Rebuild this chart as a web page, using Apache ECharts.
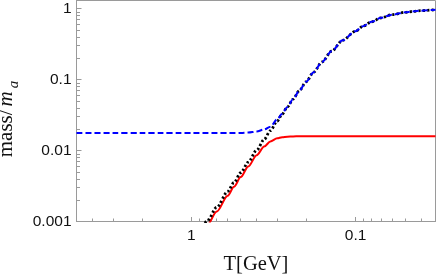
<!DOCTYPE html>
<html><head><meta charset="utf-8">
<script src="https://cdn.jsdelivr.net/npm/echarts@6/dist/echarts.min.js"></script>
<style>html,body{margin:0;padding:0;background:#fff}#c{width:436px;height:274px}</style>
</head><body><div id="c"></div>
<script>
// Temperature samples (GeV)
const T = [5, 3, 2, 1.5, 1.2, 1.0, 0.9, 0.8, 0.7, 0.6, 0.55, 0.5, 0.45, 0.4, 0.36, 0.33, 0.3, 0.28, 0.26, 0.24, 0.22, 0.2, 0.18, 0.16, 0.14, 0.12, 0.1, 0.09, 0.08, 0.07, 0.06, 0.05, 0.045, 0.04, 0.0326];
// blue dashed
const blueVals = [0.0176, 0.0176, 0.0176, 0.0176, 0.0176, 0.0176, 0.0176, 0.0176, 0.0176, 0.0176, 0.0176, 0.0177, 0.0179, 0.0185, 0.0198, 0.0217, 0.0275, 0.0330, 0.0411, 0.0530, 0.0696, 0.0931, 0.127, 0.177, 0.2505, 0.3566, 0.48, 0.565, 0.65, 0.74, 0.82, 0.885, 0.91, 0.935, 0.965];
// black dotted
const blackVals = ['-', '-', '-', '-', 0.000264, 0.000484, 0.000688, 0.001019, 0.001588, 0.002652, 0.00354, 0.00486, 0.00687, 0.01012, 0.01433, 0.01905, 0.02597, 0.03244, 0.04113, 0.05303, 0.06956, 0.0931, 0.1271, 0.1769, 0.2505, 0.3566, 0.48, 0.565, 0.65, 0.74, 0.82, 0.885, 0.91, 0.935, 0.965];
// red solid
const redVals = ['-', '-', '-', '-', 0.000230, 0.000421, 0.000599, 0.000887, 0.001382, 0.002307, 0.00308, 0.00422, 0.00596, 0.00859, 0.01138, 0.01343, 0.01486, 0.0154, 0.01568, 0.01581, 0.01587, 0.0159, 0.0159, 0.0159, 0.0159, 0.0159, 0.0159, 0.0159, 0.0159, 0.0159, 0.0159, 0.0159, 0.0159, 0.0159, 0.0159];

const xTickValues = [1, 0.1];
const xTickLabels = ['1', '0.1'];
const yTickValues = [0.001, 0.01, 0.1, 1];
const yTickLabels = ['0.001', '0.01', '0.1', '1'];

function pick(vals, labels) {
  return function (v) {
    for (let i = 0; i < vals.length; i++) {
      if (Math.abs(Math.log10(v) - Math.log10(vals[i])) < 1e-4) return labels[i];
    }
    return '';
  };
}
function pairs(vals) { return T.map((t, i) => [t, vals[i]]); }

const axisGray = '#9a9a9a';
const chart = echarts.init(document.getElementById('c'), null, { renderer: 'canvas' });
chart.setOption({
  animation: false,
  grid: { left: 76.5, right: 0.5, top: 0.5, bottom: 52.5, containLabel: false, outerBoundsMode: 'none',
    show: true, borderColor: axisGray, borderWidth: 1, backgroundColor: 'transparent' },
  xAxis: {
    type: 'log', inverse: true, min: 0.0326, max: 5,
    name: 'T[GeV]', nameLocation: 'middle', nameGap: 33,
    nameTextStyle: { fontFamily: 'Liberation Serif', fontSize: 20.5, color: '#111' },
    axisLine: { lineStyle: { color: axisGray, width: 1 } },
    axisTick: { inside: true, length: 4.5, lineStyle: { color: axisGray } },
    minorTick: { show: true, splitNumber: 9, length: 3, lineStyle: { color: axisGray } },
    axisLabel: { formatter: pick(xTickValues, xTickLabels), margin: 6, fontFamily: 'Liberation Sans', fontSize: 15.5, color: '#111' },
    splitLine: { show: false }
  },
  yAxis: {
    type: 'log', min: 0.001, max: 1.3,
    name: '{n|mass/}{i|m}{s|a}', nameLocation: 'middle', nameGap: 50,
    nameTextStyle: {
      padding: [0, 16, 0, 0],
      rich: {
        n: { fontFamily: 'Liberation Serif', fontSize: 21, color: '#111' },
        i: { fontFamily: 'Liberation Serif', fontStyle: 'italic', fontSize: 21, color: '#111', padding: [0, 2, 0, 3] },
        s: { fontFamily: 'Liberation Serif', fontStyle: 'italic', fontSize: 15, color: '#111', lineHeight: 30, verticalAlign: 'bottom', padding: [0, 0, 0, 1] }
      }
    },
    axisLine: { lineStyle: { color: axisGray, width: 1 } },
    axisTick: { inside: true, length: 5, lineStyle: { color: axisGray } },
    minorTick: { show: true, splitNumber: 9, length: 3.5, lineStyle: { color: axisGray } },
    axisLabel: { formatter: pick(yTickValues, yTickLabels), margin: 5, fontFamily: 'Liberation Sans', fontSize: 15.5, color: '#111' },
    splitLine: { show: false }
  },
  series: [
    { type: 'line', data: pairs(redVals), showSymbol: false, smooth: 0.3, smoothMonotone: 'x',
      lineStyle: { color: '#ff0000', width: 2 }, z: 2 },
    { type: 'line', data: pairs(blackVals), showSymbol: false, smooth: 0.3, smoothMonotone: 'x',
      lineStyle: { color: '#000000', width: 2.8, type: [2.2, 2.2] }, z: 3 },
    { type: 'line', data: pairs(blueVals), showSymbol: false, smooth: 0.3, smoothMonotone: 'x',
      lineStyle: { color: '#0000ff', width: 2, type: [6, 3] }, z: 4 }
  ]
});
</script>
</body></html>
